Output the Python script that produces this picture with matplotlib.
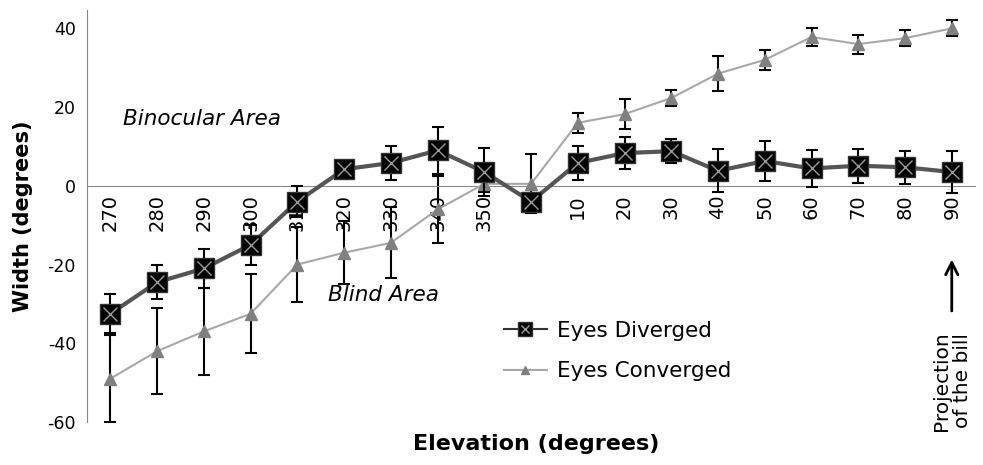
import matplotlib.pyplot as plt
from matplotlib.legend_handler import HandlerTuple
import numpy as np

plt.rcParams["axes.unicode_minus"] = False

elevation = ["270", "280", "290", "300", "310", "320", "330", "340", "350", "0",
             "10", "20", "30", "40", "50", "60", "70", "80", "90"]
diverged = [-32.5, -24.5, -21, -15, -4, 4.2, 5.8, 9, 3.5, -4,
            5.8, 8.3, 8.8, 3.8, 6.3, 4.4, 5.1, 4.7, 3.5]
diverged_err = [5, 4.3, 5, 5, 4, 1.5, 4.3, 6, 6, 2,
                4.3, 4, 3, 5.5, 5, 4.6, 4.3, 4.2, 5.3]
converged = [-49, -42, -37, -32.5, -20, -17, -14.5, -6, 0.5, 0.5,
             16, 18.2, 22.3, 28.5, 32, 37.8, 36, 37.5, 40]
converged_err = [11, 11, 11, 10, 9.5, 8, 9, 8.5, 2, 7.5,
                 2.5, 3.8, 2, 4.5, 2.5, 2.2, 2.4, 2, 2]

x = np.arange(len(elevation))

fig = plt.figure(figsize=(9.83, 4.65), dpi=100)
ax = fig.add_axes([0.0885, 0.0925, 0.9035, 0.8855])

# converged series
ax.errorbar(x, converged, yerr=converged_err, fmt="none", ecolor="black",
            elinewidth=1.5, capsize=4, capthick=1.5, zorder=2)
h_conv, = ax.plot(x, converged, color="#a8a8a8", lw=1.5, marker="^",
                  ms=8, mfc="#808080", mec="#808080", zorder=3)

# diverged series
ax.errorbar(x, diverged, yerr=diverged_err, fmt="none", ecolor="black",
            elinewidth=1.5, capsize=4, capthick=1.5, zorder=4)
h_div, = ax.plot(x, diverged, color="#555555", lw=3, marker="s",
                 ms=15, mfc="black", mec="#333333", zorder=5)
h_x, = ax.plot(x, diverged, ls="none", marker="x", ms=10, mew=1,
               color="#9a9a9a", zorder=6)

ax.set_xlim(-0.5, 18.5)
ax.set_ylim(-60, 44.6)
ax.set_yticks([-60, -40, -20, 0, 20, 40])
ax.set_xticks(x)
ax.set_xticklabels(elevation)
ax.tick_params(axis="y", length=0, labelsize=12.5, pad=8)
ax.tick_params(axis="x", length=0, pad=6, labelrotation=90, labelsize=14)

ax.spines["top"].set_visible(False)
ax.spines["right"].set_visible(False)
ax.spines["left"].set_color("#888888")
ax.spines["bottom"].set_position(("data", 0))
ax.spines["bottom"].set_color("#888888")

ax.set_ylabel("Width (degrees)", fontsize=15, fontweight="bold", labelpad=10)
fig.text(0.545, 0.045, "Elevation (degrees)", fontsize=16, fontweight="bold",
         ha="center", va="center")

ax.text(0.26, 17.0, "Binocular Area", fontsize=15.5, style="italic",
        ha="left", va="center")
ax.text(4.66, -27.7, "Blind Area", fontsize=15.5, style="italic",
        ha="left", va="center")

ax.annotate("", xy=(18.0, -18), xytext=(18.0, -32.5),
            arrowprops=dict(arrowstyle="->", lw=2, color="black",
                            mutation_scale=22))
ax.text(18.0, -49.5, "Projection\nof the bill", rotation=90, fontsize=14.5,
        ha="center", va="center", linespacing=1.15)

# legend handles drawn smaller than the plot markers
lg_div = plt.Line2D([], [], color="#333333", lw=1.5, marker="s", ms=10,
                    mfc="black", mec="#333333")
lg_x = plt.Line2D([], [], ls="none", marker="x", ms=6, mew=1, color="#9a9a9a")
lg_conv = plt.Line2D([], [], color="#a8a8a8", lw=1.5, marker="^", ms=6,
                     mfc="#808080", mec="#808080")
ax.legend([(lg_div, lg_x), lg_conv], ["Eyes Diverged", "Eyes Converged"],
          handler_map={tuple: HandlerTuple(ndivide=1, pad=0)},
          loc="center left", bbox_to_anchor=(0.469, 0.172), frameon=False,
          fontsize=15.5, handlelength=2.0, labelspacing=0.95, handletextpad=0.5,
          borderaxespad=0, borderpad=0)

fig.savefig("out.png", dpi=100)
